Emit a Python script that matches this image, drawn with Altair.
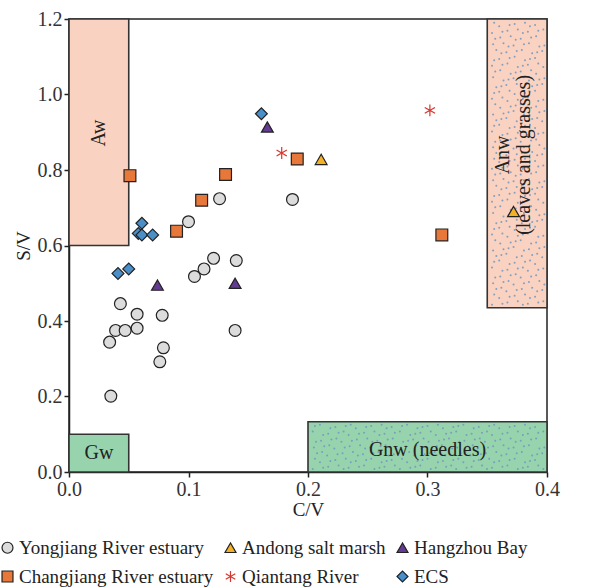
import altair as alt
import pandas as pd
import numpy as np

# ---------------- data ----------------
series_order = ["Yongjiang River estuary", "Andong salt marsh", "Hangzhou Bay",
                "Changjiang River estuary", "Qiantang River", "ECS"]

yong_x = [0.126, 0.100, 0.121, 0.113, 0.105, 0.140, 0.043, 0.057, 0.078, 0.039,
          0.047, 0.057, 0.034, 0.079, 0.076, 0.139, 0.035, 0.187]
yong_y = [0.724, 0.663, 0.566, 0.538, 0.518, 0.560, 0.446, 0.418, 0.415, 0.375,
          0.375, 0.381, 0.344, 0.329, 0.292, 0.375, 0.201, 0.722]

chang_x = [0.051, 0.131, 0.111, 0.090, 0.191, 0.312]
chang_y = [0.785, 0.788, 0.720, 0.638, 0.829, 0.628]

qian_x = [0.178, 0.302]
qian_y = [0.845, 0.958]

andong_x = [0.211, 0.372]
andong_y = [0.828, 0.690]

hang_x = [0.166, 0.074, 0.139]
hang_y = [0.914, 0.495, 0.500]

ecs_x = [0.161, 0.058, 0.061, 0.061, 0.070, 0.041, 0.050]
ecs_y = [0.949, 0.632, 0.659, 0.628, 0.628, 0.526, 0.538]

region_names = ["Aw", "Gw", "Gnw", "Anw"]
region_x0 = [0.0, 0.0, 0.2, 0.35]
region_x1 = [0.05, 0.05, 0.4, 0.4]
region_y0 = [0.6, 0.0, 0.0, 0.435]
region_y1 = [1.2, 0.1, 0.133, 1.2]
region_fill = ["#F9D2C1", "#97D4AE", "#97D4AE", "#F9D2C1"]

x_ticks = [0.0, 0.1, 0.2, 0.3, 0.4]
y_ticks = [0.0, 0.2, 0.4, 0.6, 0.8, 1.0, 1.2]

# ---------------- tables ----------------
rows = []
for name, xs, ys in [("Yongjiang River estuary", yong_x, yong_y),
                     ("Changjiang River estuary", chang_x, chang_y),
                     ("Qiantang River", qian_x, qian_y),
                     ("Andong salt marsh", andong_x, andong_y),
                     ("Hangzhou Bay", hang_x, hang_y),
                     ("ECS", ecs_x, ecs_y)]:
    for a, b in zip(xs, ys):
        rows.append({"series": name, "x": a, "y": b})
pts = pd.DataFrame(rows)

regions = pd.DataFrame({"name": region_names, "x0": region_x0, "x1": region_x1,
                        "y0": region_y0, "y1": region_y1, "fill": region_fill})

# decorative stipple texture for the non-woody regions (regular staggered grid)
tex = []
for i in (2, 3):
    xs = np.arange(region_x0[i] + 0.004, region_x1[i] - 0.002, 0.006)
    ys = np.arange(region_y0[i] + 0.008, region_y1[i] - 0.004, 0.018)
    for j, yy in enumerate(ys):
        for k, xx in enumerate(xs):
            dx = ((j * 7 + k * 3) % 5) * 0.0009
            dy = ((j * 3 + k * 5) % 4) * 0.003
            px, py = xx + dx, yy + dy
            if px < region_x1[i] - 0.002 and py < region_y1[i] - 0.004:
                tex.append({"x": px, "y": py})
tex = pd.DataFrame(tex)

FONT = "Liberation Serif"
xs_scale = alt.Scale(domain=[0, 0.4], nice=False, zero=False)
ys_scale = alt.Scale(domain=[0, 1.2], nice=False, zero=False)

xaxis = alt.Axis(values=x_ticks, format=".1f", title="C/V", grid=False,
                 labelFlush=False, titlePadding=1, labelPadding=2)
yaxis = alt.Axis(values=y_ticks, format=".1f", title="S/V", grid=False,
                 labelFlush=False, titlePadding=4, labelPadding=2)

rects = alt.Chart(regions).mark_rect(stroke="#333333", strokeWidth=1.6).encode(
    x=alt.X("x0:Q", scale=xs_scale, axis=xaxis),
    x2="x1:Q",
    y=alt.Y("y0:Q", scale=ys_scale, axis=yaxis),
    y2="y1:Q",
    fill=alt.Fill("fill:N", scale=None),
)

texture = alt.Chart(tex).mark_circle(size=4, color="#7096BE", opacity=0.85).encode(
    x=alt.X("x:Q", scale=xs_scale, axis=xaxis), y=alt.Y("y:Q", scale=ys_scale, axis=yaxis))

lab_df = pd.DataFrame({"t": ["Aw", "Gw", "Gnw (needles)", "Anw", "(leaves and grasses)"],
                       "x": [0.025, 0.025, 0.3, 0.3635, 0.3805],
                       "y": [0.898, 0.05, 0.057, 0.84, 0.84],
                       "a": [270, 0, 0, 270, 270]})
labels = alt.Chart(lab_df).mark_text(font=FONT, fontSize=20, color="#222222",
                                     baseline="middle", align="center").encode(
    x=alt.X("x:Q", scale=xs_scale, axis=xaxis), y=alt.Y("y:Q", scale=ys_scale, axis=yaxis),
    text="t:N", angle=alt.Angle("a:Q", scale=None))

asterisk = "M0,-1L0,1M-0.87,-0.5L0.87,0.5M-0.87,0.5L0.87,-0.5"
shape_range = ["circle", "triangle-up", "triangle-up", "square", asterisk, "diamond"]
fill_range = ["#DCDCDC", "#F5B125", "#643A92", "#E8773A", "transparent", "#4B8FC8"]
stroke_range = ["#222222", "#222222", "#222222", "#222222", "#D9352C", "#222222"]

legend = alt.Legend(orient="none", legendX=-71, legendY=519, columns=3,
                    direction="horizontal", title=None)

points = alt.Chart(pts).mark_point(size=140, filled=True, opacity=1,
                                   strokeWidth=1.2).encode(
    x=alt.X("x:Q", scale=xs_scale, axis=xaxis),
    y=alt.Y("y:Q", scale=ys_scale, axis=yaxis),
    shape=alt.Shape("series:N", scale=alt.Scale(domain=series_order, range=shape_range), legend=legend),
    fill=alt.Fill("series:N", scale=alt.Scale(domain=series_order, range=fill_range), legend=legend),
    stroke=alt.Stroke("series:N", scale=alt.Scale(domain=series_order, range=stroke_range), legend=legend),
)

chart = alt.layer(rects, texture, labels, points).properties(
    width=478, height=453,
    background="white",
    autosize=alt.AutoSizeParams(type="none"),
    padding={"left": 69, "top": 19, "right": 42, "bottom": 116},
).configure_view(
    stroke="#222222", strokeWidth=1.5
).configure_axis(
    labelFont=FONT, labelFontSize=20, labelColor="#333333",
    titleFont=FONT, titleFontSize=19, titleFontWeight="normal", titleColor="#222222",
    tickColor="#222222", domainColor="#222222", domainWidth=1.5, tickWidth=1.5,
    tickSize=5,
).configure_legend(
    labelFont=FONT, labelFontSize=19, labelColor="#222222", symbolSize=120,
    symbolStrokeWidth=1.2, rowPadding=9, columnPadding=7, labelOffset=2,
    labelLimit=400,
)

chart.save("out.html", embed_options={"renderer": "svg", "actions": False})
